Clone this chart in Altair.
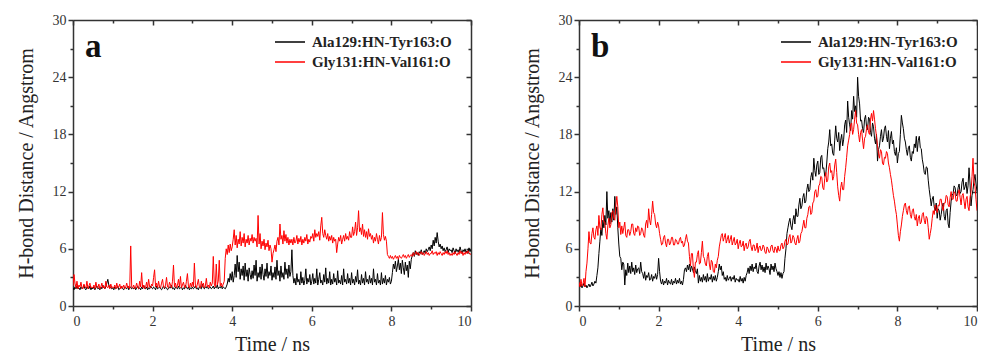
import altair as alt
import pandas as pd

# ---------------- data ----------------
STEP = 0.025
N = 401
TIME = [round(i * STEP, 3) for i in range(N)]
SERIES = ["Ala129:HN-Tyr163:O", "Gly131:HN-Val161:O"]
COLORS = ["#000000", "#ff0000"]
PANEL_LABELS = ["a", "b"]
X_TICKS = [0, 2, 4, 6, 8, 10]
Y_TICKS = [0, 6, 12, 18, 24, 30]

# panel a, Ala129:HN-Tyr163:O  (one row = 0.5 ns)
A_ALA = [
    1.9, 1.7, 2.0, 1.8, 2.1, 1.8, 1.9, 1.7, 2.0, 1.8, 1.9, 2.2, 1.8, 1.7, 2.0, 1.9, 1.8, 2.1, 1.7, 1.9,
    1.8, 2.0, 1.7, 1.9, 2.1, 1.8, 1.9, 1.7, 2.0, 1.8, 2.2, 1.9, 1.8, 2.0, 2.4, 2.8, 2.2, 1.9, 2.0, 1.8,
    1.9, 1.7, 2.0, 1.8, 1.9, 2.1, 1.7, 1.8, 2.0, 1.9, 1.8, 1.7, 2.0, 1.9, 1.8, 2.1, 1.7, 1.9, 2.0, 1.8,
    1.9, 1.8, 2.0, 1.7, 1.9, 2.1, 1.8, 1.9, 1.7, 2.0, 1.8, 2.2, 1.9, 1.8, 2.0, 1.7, 1.9, 1.8, 2.1, 1.9,
    1.8, 2.0, 1.9, 1.7, 2.1, 1.8, 1.9, 2.0, 1.8, 1.7, 1.9, 2.1, 1.8, 2.0, 1.9, 1.7, 1.8, 2.0, 1.9, 2.2,
    1.8, 1.9, 1.7, 2.0, 1.9, 1.8, 2.1, 1.8, 1.9, 2.0, 1.7, 1.9, 1.8, 2.2, 1.9, 1.8, 2.0, 1.7, 1.9, 1.8,
    2.0, 1.8, 1.9, 2.1, 1.8, 1.9, 1.7, 2.0, 1.9, 1.8, 2.3, 1.9, 1.8, 2.0, 1.9, 2.1, 1.8, 1.9, 2.0, 1.8,
    1.9, 2.1, 1.8, 2.0, 1.9, 2.2, 1.8, 2.0, 1.9, 2.1, 1.8, 2.0, 1.9, 1.8, 2.0, 2.3, 2.9, 2.5, 3.4, 2.7,
    3.6, 2.5, 3.2, 4.4, 3.0, 5.3, 3.6, 4.6, 2.8, 3.9, 3.2, 4.2, 2.7, 4.5, 3.1, 3.8, 2.6, 4.0, 3.3, 2.8,
    3.7, 2.9, 4.3, 3.2, 4.8, 2.6, 3.5, 3.0, 4.1, 2.8, 4.4, 3.3, 2.7, 3.9, 3.1, 4.5, 2.9, 3.6, 3.2, 4.2,
    2.7, 3.5, 3.0, 4.1, 2.8, 4.8, 3.2, 3.7, 2.6, 4.2, 3.0, 3.5, 2.8, 4.6, 3.3, 3.9, 2.9, 4.3, 3.1, 3.6,
    5.9, 3.2, 2.4, 2.9, 2.2, 3.4, 2.5, 2.8, 2.2, 3.6, 2.4, 3.0, 2.2, 2.7, 3.9, 2.3, 2.9, 2.5, 3.3, 2.2,
    2.6, 3.4, 2.3, 2.9, 2.4, 3.9, 2.2, 2.8, 3.5, 2.4, 2.7, 2.2, 3.3, 2.5, 4.0, 2.3, 2.9, 2.4, 3.6, 2.2,
    2.8, 2.3, 3.4, 2.5, 2.9, 2.2, 3.7, 2.4, 2.7, 2.3, 3.2, 2.2, 3.9, 2.5, 2.8, 2.3, 3.4, 2.4, 2.9, 2.2,
    3.5, 2.4, 2.8, 2.2, 3.1, 2.5, 3.8, 2.3, 2.7, 2.2, 3.3, 2.4, 2.9, 2.2, 3.6, 2.5, 2.8, 2.3, 3.2, 2.4,
    2.9, 2.2, 3.9, 2.5, 2.8, 2.2, 3.4, 2.4, 2.7, 2.2, 3.5, 2.3, 2.9, 2.4, 3.2, 2.2, 2.8, 2.5, 3.0, 2.3,
    2.6, 3.5, 4.4, 3.9, 4.7, 3.6, 4.2, 4.9, 3.8, 4.5, 3.4, 4.8, 4.0, 3.3, 4.6, 3.7, 4.3, 3.0, 4.7, 3.9,
    4.9, 5.3, 5.6, 5.2, 5.8, 5.4, 5.6, 5.3, 5.7, 5.5, 5.9, 5.4, 5.6, 5.8, 5.5, 6.0, 5.7, 5.9, 6.2, 5.8,
    6.4, 6.0, 6.9, 6.3, 7.2, 6.6, 7.7, 6.8, 6.2, 6.5, 6.0, 6.3, 5.8, 6.1, 5.7, 5.9, 6.2, 5.6, 6.0, 5.8,
    5.9, 5.6, 6.1, 5.8, 5.5, 6.0, 5.7, 5.9, 5.6, 6.2, 5.8, 5.5, 5.9, 5.7, 6.0, 5.6, 5.8, 5.5, 6.1, 5.7,
    5.9,
]
# panel a, Gly131:HN-Val161:O
A_GLY = [
    2.1, 3.3, 2.4, 1.9, 2.6, 1.8, 2.2, 2.0, 2.5, 1.9, 1.8, 2.3, 2.0, 1.9, 2.6, 1.8, 2.1, 2.4, 1.9, 2.0,
    1.9, 2.2, 1.8, 2.5, 2.0, 1.9, 2.3, 1.8, 2.0, 2.4, 1.9, 2.1, 1.8, 2.6, 2.0, 1.9, 2.2, 1.8, 2.3, 1.9,
    2.0, 1.9, 2.2, 1.8, 2.4, 1.9, 2.0, 2.3, 1.8, 2.1, 1.9, 2.2, 1.8, 2.0, 2.4, 1.9, 2.1, 1.8, 6.3, 2.0,
    1.9, 2.2, 1.8, 2.0, 2.4, 1.9, 1.8, 2.6, 2.0, 3.5, 1.9, 2.2, 1.8, 2.0, 2.5, 1.9, 2.8, 2.0, 1.9, 2.3,
    2.1, 3.0, 3.8, 2.0, 2.4, 1.9, 2.6, 2.0, 1.9, 2.4, 2.8, 2.0, 1.9, 2.2, 3.0, 2.0, 1.9, 2.5, 2.2, 1.9,
    2.6, 4.3, 2.0, 2.4, 1.9, 2.2, 2.8, 2.0, 3.1, 1.9, 2.2, 2.5, 2.0, 1.9, 2.6, 3.4, 2.1, 1.9, 2.4, 2.0,
    2.5, 2.0, 4.5, 2.2, 1.9, 2.3, 2.8, 2.0, 1.9, 2.6, 2.0, 2.4, 1.9, 2.1, 2.9, 2.0, 2.2, 1.9, 2.5, 2.1,
    2.4, 5.2, 2.3, 2.0, 4.4, 2.2, 2.6, 4.8, 2.1, 2.4, 2.0, 2.3, 2.6, 5.0, 6.0, 5.4, 6.4, 5.6, 6.5, 5.8,
    6.2, 7.0, 8.0, 6.4, 7.4, 6.1, 7.0, 6.5, 7.8, 6.3, 7.2, 6.6, 7.6, 6.2, 7.0, 6.6, 7.4, 6.4, 7.1, 6.8,
    7.5, 6.6, 7.2, 6.8, 7.1, 6.2, 9.5, 6.5, 7.6, 6.0, 6.8, 6.3, 7.0, 5.9, 6.6, 6.2, 6.9, 5.8, 6.4, 6.0,
    4.6, 5.5, 5.9, 6.4, 5.7, 6.8, 7.2, 6.4, 8.6, 7.0, 7.4, 6.5, 7.9, 6.8, 7.5, 6.6, 7.2, 6.4, 7.0, 6.6,
    7.0, 6.4, 7.2, 6.6, 6.8, 7.4, 6.5, 7.1, 6.7, 7.3, 6.4, 7.0, 6.6, 7.2, 6.8, 7.5, 6.5, 7.0, 6.7, 7.3,
    7.1, 7.6, 6.8, 8.0, 7.2, 7.6, 7.3, 7.8, 6.9, 8.4, 9.3, 7.6, 7.2, 8.0, 7.4, 7.0, 7.6, 6.8, 7.3, 6.9,
    7.4, 6.6, 7.2, 6.8, 7.0, 5.6, 6.5, 7.2, 6.8, 7.4, 6.5, 7.0, 7.4, 6.8, 7.6, 7.0, 7.3, 6.9, 7.8, 7.2,
    7.2, 8.3, 7.4, 7.8, 8.8, 7.4, 8.2, 10.0, 7.8, 8.2, 7.5, 8.6, 7.3, 8.0, 7.2, 7.8, 7.0, 8.1, 7.3, 7.6,
    7.0, 7.4, 6.6, 7.2, 6.8, 7.6, 7.0, 6.5, 7.4, 6.8, 7.2, 9.8, 7.5, 6.9, 7.3, 6.8, 5.4, 5.2, 5.0, 5.3,
    5.0, 5.2, 4.9, 5.1, 5.3, 5.0, 5.2, 4.9, 5.3, 5.1, 5.0, 5.2, 5.4, 5.1, 5.3, 5.0, 5.2, 5.4, 5.1, 5.3,
    5.4, 5.2, 5.6, 5.3, 5.5, 5.7, 5.4, 5.6, 5.3, 5.5, 5.7, 5.4, 5.6, 5.3, 5.5, 5.7, 5.4, 5.6, 5.3, 5.5,
    5.5, 5.8, 5.4, 5.6, 5.5, 5.7, 5.3, 5.6, 5.4, 5.7, 5.5, 5.3, 5.6, 5.4, 5.7, 5.5, 5.8, 5.4, 5.6, 5.3,
    5.5, 5.3, 5.6, 5.4, 5.7, 5.5, 5.3, 5.6, 5.4, 5.8, 5.5, 5.7, 5.3, 5.6, 5.4, 5.7, 5.5, 5.8, 5.6, 5.4,
    5.5,
]
# panel b, Ala129:HN-Tyr163:O
B_ALA = [
    2.2, 2.0, 2.3, 1.9, 2.1, 2.4, 2.0, 2.2, 1.9, 2.1, 2.3, 2.0, 2.2, 2.5, 2.1, 2.3, 2.6, 2.4, 3.2, 4.0,
    5.5, 6.8, 8.2, 7.4, 9.0, 8.2, 9.5, 8.5, 12.0, 9.2, 10.0, 8.6, 9.8, 8.8, 10.2, 9.0, 11.5, 9.6, 10.4, 8.2,
    6.5, 5.2, 5.0, 3.8, 4.6, 4.4, 2.2, 3.8, 3.2, 4.5, 3.5, 4.2, 3.4, 4.6, 3.6, 4.0, 3.3, 4.3, 3.5, 3.9,
    4.0, 3.4, 4.6, 3.6, 3.4, 2.9, 3.6, 2.7, 3.2, 3.0, 3.5, 2.7, 2.8, 3.3, 2.6, 3.1, 2.9, 3.4, 2.8, 3.3,
    5.0, 3.6, 2.6, 2.3, 2.8, 2.2, 2.6, 2.4, 2.9, 2.2, 2.7, 2.4, 2.3, 2.8, 2.2, 2.6, 2.4, 2.9, 2.3, 2.7,
    2.4, 2.9, 2.3, 2.6, 2.2, 2.8, 3.8, 4.0, 3.6, 4.3, 3.8, 4.4, 3.6, 4.2, 3.9, 3.5, 4.1, 3.7, 3.4, 3.9,
    2.4, 3.2, 2.6, 3.0, 2.5, 3.3, 2.7, 3.1, 2.5, 3.4, 2.6, 3.0, 2.8, 3.3, 2.5, 3.1, 2.7, 3.2, 2.6, 3.0,
    3.6, 4.4, 3.8, 4.2, 3.2, 3.6, 2.8, 3.0, 2.6, 3.2, 2.7, 2.9, 3.1, 2.6, 3.0, 2.8, 3.2, 2.5, 2.9, 2.7,
    2.8, 2.5, 3.1, 2.6, 2.9, 2.4, 3.0, 2.6, 3.2, 3.5, 4.0, 3.4, 4.2, 3.7, 4.4, 3.6, 4.1, 3.9, 4.5, 3.6,
    3.4, 4.2, 4.6, 3.8, 4.3, 3.6, 4.1, 3.5, 4.5, 3.8, 4.2, 3.9, 3.3, 4.4, 3.8, 4.2, 3.6, 4.5, 3.9, 3.6,
    3.2, 3.6, 3.0, 3.5, 2.9, 3.4, 3.6, 5.0, 6.0, 7.6, 8.2, 8.8, 9.2, 8.4, 8.0, 9.0, 9.5, 8.6, 10.2, 9.4,
    9.4, 10.6, 11.3, 10.2, 10.5, 11.4, 11.8, 10.8, 11.0, 12.2, 12.8, 12.0, 12.2, 13.5, 14.0, 13.2, 15.5, 14.2, 13.6, 14.8,
    15.2, 13.8, 14.0, 15.6, 15.8, 14.4, 14.5, 13.6, 13.8, 15.0, 16.5, 17.2, 18.5, 16.8, 17.0, 16.0, 15.8, 17.4, 18.9, 17.6,
    17.2, 18.2, 16.3, 17.4, 18.0, 16.8, 17.5, 19.0, 19.5, 18.2, 21.5, 19.8, 19.0, 18.4, 20.5, 19.6, 22.0, 20.4, 21.0, 19.8,
    24.0, 22.0, 21.2, 19.4, 19.5, 18.6, 18.2, 19.6, 20.0, 18.8, 18.5, 19.8, 19.6, 18.2, 17.8, 19.2, 18.8, 17.6, 17.0, 18.0,
    15.2, 16.4, 16.8, 17.8, 18.5, 17.2, 17.6, 18.6, 18.9, 17.8, 17.2, 18.4, 16.5, 17.6, 18.3, 17.0, 17.4, 16.2, 15.8, 16.6,
    15.0, 16.0, 16.2, 18.0, 20.0, 19.2, 18.6, 17.6, 17.2, 16.4, 15.8, 16.6, 16.8, 15.6, 15.2, 16.2, 16.0, 17.0, 16.6, 17.8,
    16.2, 17.4, 17.8, 16.6, 16.5, 15.4, 14.8, 14.0, 13.8, 14.6, 14.5, 13.2, 12.2, 11.4, 10.5, 11.2, 11.5, 10.4, 10.0, 10.8,
    9.2, 10.2, 10.0, 9.0, 9.6, 10.4, 10.8, 9.4, 9.0, 10.0, 10.2, 8.6, 8.2, 9.8, 11.0, 11.6, 11.8, 12.6, 12.4, 11.6,
    11.6, 12.4, 12.8, 11.8, 12.0, 13.0, 13.4, 12.2, 12.5, 13.0, 11.8, 12.6, 14.5, 12.8, 10.5, 11.6, 12.2, 13.2, 13.8, 12.8,
    12.0,
]
# panel b, Gly131:HN-Val161:O
B_GLY = [
    2.5, 2.0, 2.8, 2.1, 2.3, 2.9, 2.0, 3.6, 4.5, 6.0, 7.8, 6.6, 6.5, 7.6, 8.2, 7.2, 7.0, 8.0, 8.4, 7.4,
    9.5, 8.2, 8.0, 9.6, 10.3, 8.8, 8.8, 7.6, 7.0, 8.4, 9.2, 8.2, 8.5, 9.8, 10.0, 9.2, 9.0, 10.5, 11.5, 10.4,
    8.2, 8.8, 7.5, 8.4, 7.6, 8.2, 8.8, 7.4, 7.2, 8.0, 8.0, 7.4, 7.8, 8.6, 8.6, 7.6, 7.4, 8.2, 7.8, 8.4,
    8.3, 7.4, 7.6, 8.2, 8.0, 7.4, 7.2, 8.6, 9.0, 8.2, 10.2, 9.0, 8.5, 9.6, 11.0, 9.8, 9.6, 8.6, 8.2, 8.8,
    8.4, 7.6, 7.0, 6.4, 6.5, 7.2, 7.4, 6.6, 6.2, 7.0, 7.0, 6.4, 6.6, 7.2, 7.2, 6.4, 6.4, 7.0, 6.9, 6.5,
    6.5, 7.0, 7.2, 6.6, 6.8, 6.2, 6.4, 7.0, 7.5, 6.8, 6.6, 5.2, 4.2, 5.5, 5.5, 3.8, 3.0, 4.6, 4.6, 5.4,
    5.8, 4.4, 4.5, 5.6, 6.8, 5.2, 5.0, 4.4, 4.2, 5.2, 5.6, 4.4, 3.8, 4.8, 4.6, 3.6, 3.5, 4.4, 4.0, 4.8,
    5.2, 6.2, 6.8, 7.4, 7.6, 6.8, 7.2, 7.6, 6.6, 7.0, 7.4, 6.6, 7.0, 7.4, 6.4, 6.8, 7.2, 6.4, 6.6, 7.0,
    6.0, 6.6, 6.9, 6.2, 6.3, 6.8, 5.8, 6.4, 6.6, 6.0, 6.2, 6.8, 7.0, 6.2, 5.8, 6.4, 6.4, 5.8, 6.0, 6.6,
    5.6, 6.2, 6.3, 5.8, 5.9, 6.4, 6.2, 5.6, 5.5, 6.2, 6.0, 5.6, 5.7, 6.3, 6.4, 5.8, 5.6, 6.2, 6.0, 5.6,
    6.3, 5.8, 5.8, 6.4, 6.6, 6.0, 6.2, 6.8, 7.0, 6.4, 6.5, 7.2, 7.5, 6.6, 6.8, 7.4, 7.2, 6.6, 6.4, 7.0,
    7.4, 6.6, 6.8, 7.6, 7.8, 8.4, 9.0, 8.2, 8.2, 9.2, 9.6, 10.4, 10.5, 9.6, 9.8, 10.8, 11.0, 12.0, 12.2, 11.4,
    11.5, 12.6, 12.8, 13.6, 13.5, 12.4, 12.2, 13.4, 14.0, 13.0, 13.2, 14.6, 15.0, 14.0, 14.2, 13.2, 13.6, 14.8, 15.4, 14.0,
    12.5, 11.6, 11.0, 12.4, 13.0, 12.2, 12.2, 13.6, 14.5, 15.6, 16.8, 17.4, 18.0, 19.0, 19.2, 18.0, 18.5, 19.6, 20.5, 19.2,
    19.0, 18.0, 17.2, 18.2, 18.5, 17.4, 16.5, 17.6, 17.8, 18.6, 19.0, 18.2, 18.0, 19.6, 20.2, 19.4, 20.5, 19.6, 18.6, 17.8,
    16.8, 16.0, 15.5, 16.4, 16.2, 15.0, 14.8, 15.6, 15.5, 16.2, 16.0, 15.0, 14.5, 13.8, 13.2, 12.4, 11.6, 11.0, 10.2, 9.6,
    8.5, 7.4, 6.8, 7.8, 8.5, 9.4, 10.0, 10.6, 10.8, 10.0, 9.6, 10.4, 10.5, 9.6, 9.2, 10.0, 10.2, 9.4, 9.0, 9.6,
    8.4, 9.2, 9.5, 8.6, 8.8, 9.6, 9.8, 9.0, 8.6, 9.4, 9.2, 8.2, 7.0, 7.6, 8.2, 9.2, 10.0, 9.6, 10.6, 10.2,
    9.8, 10.6, 10.5, 11.2, 11.2, 10.4, 10.0, 10.8, 10.8, 11.6, 11.5, 10.6, 10.4, 11.4, 12.0, 11.2, 11.2, 12.0, 11.8, 11.0,
    11.0, 11.8, 12.2, 11.4, 10.6, 11.6, 11.8, 11.0, 10.2, 11.2, 11.5, 10.4, 10.0, 11.4, 12.0, 13.6, 15.5, 13.0, 12.5, 11.2,
    10.0,
]

# ---------------- styling ----------------
FONT = "Liberation Serif"
AXIS_COLOR = "#333333"
W = 398
H = 286


def make_df(ala, gly):
    ta = TIME[:len(ala)]
    tg = TIME[:len(gly)]
    return pd.DataFrame({
        "t": ta + tg,
        "d": ala[:len(ta)] + gly[:len(tg)],
        "s": [SERIES[0]] * len(ta) + [SERIES[1]] * len(tg),
    })


X_MINOR = list(range(0, 11))
Y_MINOR = list(range(0, 31, 3))


def x_axis_main():
    return alt.Axis(
        values=X_MINOR,
        labelExpr="datum.value % 2 ? '' : datum.label",
        tickSize={"condition": {"test": "datum.value % 2 != 0", "value": 3}, "value": 5},
        title="Time / ns",
        grid=False,
        labelFont=FONT,
        labelPadding=3,
        titlePadding=6,
    )


def y_axis_main():
    return alt.Axis(
        values=Y_MINOR,
        labelExpr="datum.value % 6 ? '' : datum.label",
        tickSize={"condition": {"test": "datum.value % 6 != 0", "value": 3}, "value": 5},
        title="H-bond Distance / Angstrom",
        grid=False,
        labelFont=FONT,
        labelPadding=2,
        titlePadding=16,
    )


def panel(ala, gly, label):
    df = make_df(ala, gly)
    xs = alt.Scale(domain=[0, 10], nice=False, zero=False)
    ys = alt.Scale(domain=[0, 30], nice=False)
    lines = alt.Chart(df).mark_line(strokeWidth=1, clip=True).encode(
        x=alt.X("t:Q", scale=xs, axis=x_axis_main()),
        y=alt.Y("d:Q", scale=ys, axis=y_axis_main()),
        color=alt.Color(
            "s:N",
            scale=alt.Scale(domain=SERIES, range=COLORS),
            legend=alt.Legend(
                title=None,
                orient="none",
                legendX=201,
                legendY=15,
                symbolType="stroke",
                symbolSize=900,
                symbolStrokeWidth=1.5,
                clipHeight=14,
                labelFont=FONT,
                labelFontWeight="bold",
                labelFontSize=15,
                labelColor="#222222",
                labelOffset=6,
                rowPadding=5,
                padding=0,
            ),
        ),
        order=alt.Order("s:N"),
    )
    mirror = alt.Chart(df).mark_line(strokeOpacity=0).encode(
        x=alt.X("t:Q", scale=xs, axis=alt.Axis(
            orient="bottom", offset=-H, labels=False, title=None,
            values=X_MINOR, grid=False,
            tickSize={"condition": {"test": "datum.value % 2 != 0", "value": 3}, "value": 5})),
        y=alt.Y("d:Q", scale=ys, axis=alt.Axis(
            orient="left", offset=-W, labels=False, title=None,
            values=Y_MINOR, grid=False,
            tickSize={"condition": {"test": "datum.value % 6 != 0", "value": 3}, "value": 5})),
        detail="s:N",
    )
    tag = alt.Chart(pd.DataFrame({"lab": [label]})).mark_text(
        font=FONT, fontSize=33, fontWeight="bold", color="#111111",
        align="left", baseline="alphabetic",
    ).encode(text="lab:N", x=alt.value(12), y=alt.value(37))
    return alt.layer(lines, mirror, tag).resolve_axis(
        x="independent", y="independent"
    ).properties(width=W, height=H)


pa = panel(A_ALA, A_GLY, PANEL_LABELS[0])
pb = panel(B_ALA, B_GLY, PANEL_LABELS[1])

chart = alt.hconcat(pa, pb, spacing=50).resolve_scale(
    color="independent"
).resolve_legend(color="independent").properties(
    padding={"left": 8, "top": 5, "right": 0, "bottom": 0}
).configure_view(stroke=None).configure_axis(
    domainColor=AXIS_COLOR,
    domainWidth=1.5,
    tickColor=AXIS_COLOR,
    tickWidth=1.5,
    labelFont=FONT,
    labelFontSize=14,
    labelColor="#333333",
    titleFont=FONT,
    titleFontSize=20,
    titleFontWeight="normal",
    titleColor="#222222",
)

chart.save("out.html", embed_options={"renderer": "svg", "actions": False})
